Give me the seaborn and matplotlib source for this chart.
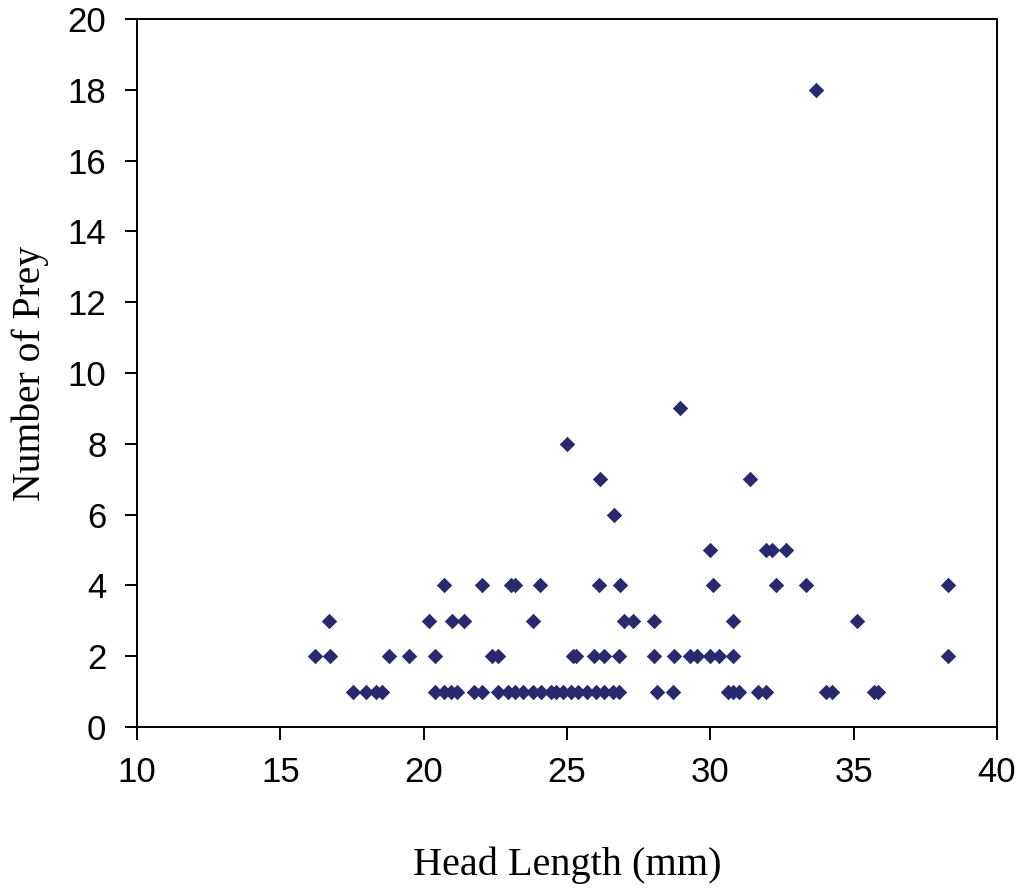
import numpy as np
import pandas as pd
import seaborn as sns
import matplotlib.pyplot as plt

# Head length (mm) and number of prey per individual
head_length = [
    17.55, 18.0, 18.35, 18.55, 20.4, 20.7, 20.95, 21.15, 21.75, 22.05,
    22.6, 22.95, 23.2, 23.45, 23.8, 24.1, 24.45, 24.6, 24.85, 25.15,
    25.4, 25.7, 26.0, 26.3, 26.6, 26.8, 28.15, 28.7, 30.6, 30.8,
    31.0, 31.65, 31.95, 34.05, 34.25, 35.7, 35.85,
    16.2, 16.75, 18.8, 19.5, 20.4, 22.4, 22.6, 25.2, 25.3, 25.95,
    26.3, 26.8, 28.05, 28.75, 29.3, 29.55, 30.0, 30.3, 30.8, 38.3,
    16.7, 20.2, 21.0, 21.4, 23.8, 27.0, 27.3, 28.05, 30.8, 35.1,
    20.7, 22.05, 23.05, 23.2, 24.05, 26.1, 26.85, 30.1, 32.3, 33.35, 38.3,
    30.0, 31.95, 32.15, 32.65,
    26.65, 26.15, 31.4, 25.0, 28.95, 33.7,
]
n_prey = [
    1, 1, 1, 1, 1, 1, 1, 1, 1, 1,
    1, 1, 1, 1, 1, 1, 1, 1, 1, 1,
    1, 1, 1, 1, 1, 1, 1, 1, 1, 1,
    1, 1, 1, 1, 1, 1, 1,
    2, 2, 2, 2, 2, 2, 2, 2, 2, 2,
    2, 2, 2, 2, 2, 2, 2, 2, 2, 2,
    3, 3, 3, 3, 3, 3, 3, 3, 3, 3,
    4, 4, 4, 4, 4, 4, 4, 4, 4, 4, 4,
    5, 5, 5, 5,
    6, 7, 7, 8, 9, 18,
]

x_ticks = [10, 15, 20, 25, 30, 35, 40]
y_ticks = [0, 2, 4, 6, 8, 10, 12, 14, 16, 18, 20]

df = pd.DataFrame({"Head Length (mm)": head_length, "Number of Prey": n_prey})

sns.set_style("white")
plt.rcParams["text.color"] = "black"
plt.rcParams["axes.labelcolor"] = "black"
plt.rcParams["xtick.color"] = "black"
plt.rcParams["ytick.color"] = "black"
tick_font = ["Liberation Sans", "DejaVu Sans"]
label_font = ["Liberation Serif", "DejaVu Serif"]

fig = plt.figure(figsize=(10.17, 8.88), dpi=100)
ax = fig.add_axes([0.1347, 0.1813, 0.8456, 0.7973])

sns.scatterplot(data=df, x="Head Length (mm)", y="Number of Prey", ax=ax,
                marker="D", s=62, color="#29296F", linewidth=0)

ax.set_xlim(10, 40)
ax.set_ylim(0, 20)
ax.set_xticks(x_ticks)
ax.set_yticks(y_ticks)
ax.set_xticklabels([str(t) for t in x_ticks], family=tick_font, fontsize=25)
ax.set_yticklabels([str(t) for t in y_ticks], family=tick_font, fontsize=25)
ax.tick_params(axis="both", direction="out", length=9, width=1.4,
               color="black", labelcolor="black", bottom=True, left=True)
ax.tick_params(axis="x", pad=12)
ax.tick_params(axis="y", pad=13)

for side in ["left", "bottom", "top", "right"]:
    ax.spines[side].set_visible(True)
    ax.spines[side].set_color("black")
    ax.spines[side].set_linewidth(1.4)

ax.set_xlabel("Head Length (mm)", family=label_font, fontsize=29,
              color="black", va="center")
ax.set_ylabel("Number of Prey", family=label_font, fontsize=28.5,
              color="black", va="center")
ax.xaxis.set_label_coords(0.5, -0.195)
ax.yaxis.set_label_coords(-0.124, 0.5)

fig.savefig("out.png", dpi=100)
plt.close(fig)
